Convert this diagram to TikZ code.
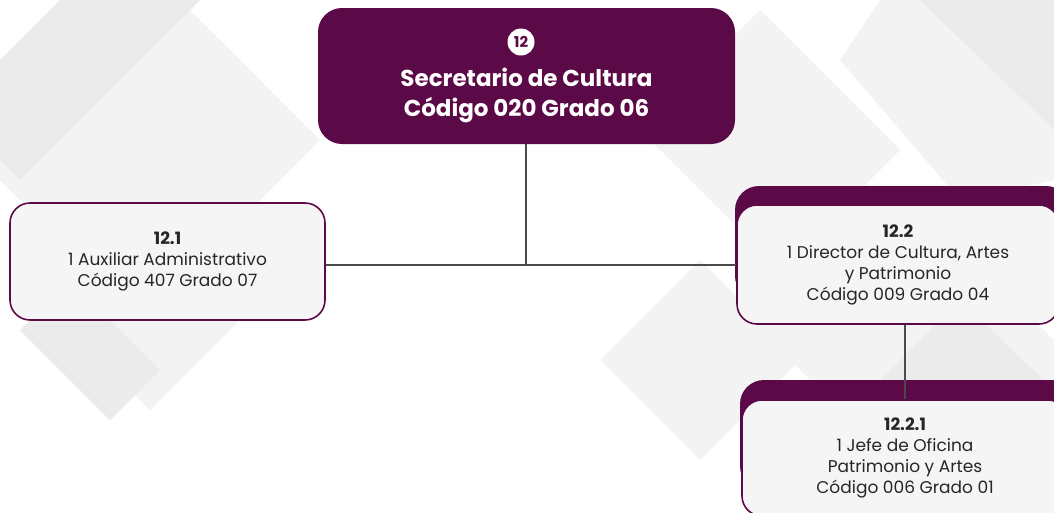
\documentclass[tikz,border=0pt]{standalone}
\usepackage{fontspec}
\setmainfont{Poppins}
\definecolor{plum}{HTML}{5C0A47}
\definecolor{linegray}{HTML}{4A4A4A}
\definecolor{bgA}{HTML}{EBEBEB}
\definecolor{bgB}{HTML}{F3F3F3}
\definecolor{boxfill}{HTML}{F5F5F5}
\begin{document}
\begin{tikzpicture}[x=1pt,y=-1pt,
  topbox/.style={rectangle,rounded corners=24pt,fill=plum,text=white,font=\bfseries\fontsize{23}{30}\selectfont,align=center,minimum width=417pt,minimum height=136pt,inner sep=0pt},
  subbox/.style={rectangle,rounded corners=20pt,draw=plum,line width=1.6pt,fill=boxfill,text=black!85,font=\fontsize{17}{21}\selectfont,align=center,inner sep=0pt},
  band/.style={fill=plum,rounded corners=24pt},
  conn/.style={draw=linegray,line width=1.8pt}]
\useasboundingbox (0,0) rectangle (1054,512);
\clip (0,0) rectangle (1054,512);
\fill[white] (0,0) rectangle (1054,512);
% background diamonds
\fill[bgB] (-60,120) -- (120,-60) -- (260,80) -- (80,260) -- cycle;
\fill[bgA] (0,60) -- (60,0) -- (200,0) -- (20,180) -- (0,160) -- cycle;
\fill[bgB] (100,160) -- (220,40) -- (320,140) -- (200,260) -- cycle;
\fill[bgB] (40,300) -- (140,200) -- (250,310) -- (150,410) -- cycle;
\fill[bgA] (20,330) -- (70,280) -- (160,370) -- (110,420) -- cycle;
\fill[bgB] (880,0) -- (1054,0) -- (1054,180) -- (960,200) -- (840,60) -- cycle;
\fill[bgA] (920,0) -- (1054,0) -- (1054,130) -- cycle;
\fill[bgB] (640,130) -- (760,10) -- (900,150) -- (780,270) -- cycle;
\fill[bgB] (760,330) -- (900,190) -- (1054,340) -- (1054,420) -- (900,470) -- cycle;
\fill[bgA] (880,380) -- (960,300) -- (1054,390) -- (1054,470) -- cycle;
\fill[bgB] (600,360) -- (700,260) -- (800,360) -- (700,460) -- cycle;
% top node
\node[topbox] (sec) at (526.5,76) {\strut\\[6pt]Secretario de Cultura\\Código 020 Grado 06};
\node[circle,fill=white,text=plum,inner sep=0pt,minimum size=27pt,font=\bfseries\fontsize{15}{15}\selectfont] (num) at (521,42) {12};
% left node
\node[subbox,minimum width=315pt,minimum height=117pt] (aux) at (167.5,261.5) {\textbf{12.1}\\1 Auxiliar Administrativo\\Código 407 Grado 07};
% right node 12.2
\fill[band] (735,186) rectangle (1070,300);
\node[subbox,minimum width=322pt,minimum height=119pt] (dir) at (898,264.5) {\textbf{12.2}\\1 Director de Cultura, Artes\\y Patrimonio\\Código 009 Grado 04};
% node 12.2.1
\fill[band] (740,380) rectangle (1075,490);
\node[subbox,minimum width=326pt,minimum height=116pt] (jefe) at (905,458) {\textbf{12.2.1}\\1 Jefe de Oficina\\Patrimonio y Artes\\Código 006 Grado 01};
% connectors
\coordinate (j) at (526,265);
\coordinate (d) at (905,0);
\draw[conn] (sec.south -| j) -- (j);
\draw[conn] (aux.east |- j) -- (dir.west |- j);
\draw[conn] (dir.south -| d) -- (jefe.north -| d);
\end{tikzpicture}
\end{document}
